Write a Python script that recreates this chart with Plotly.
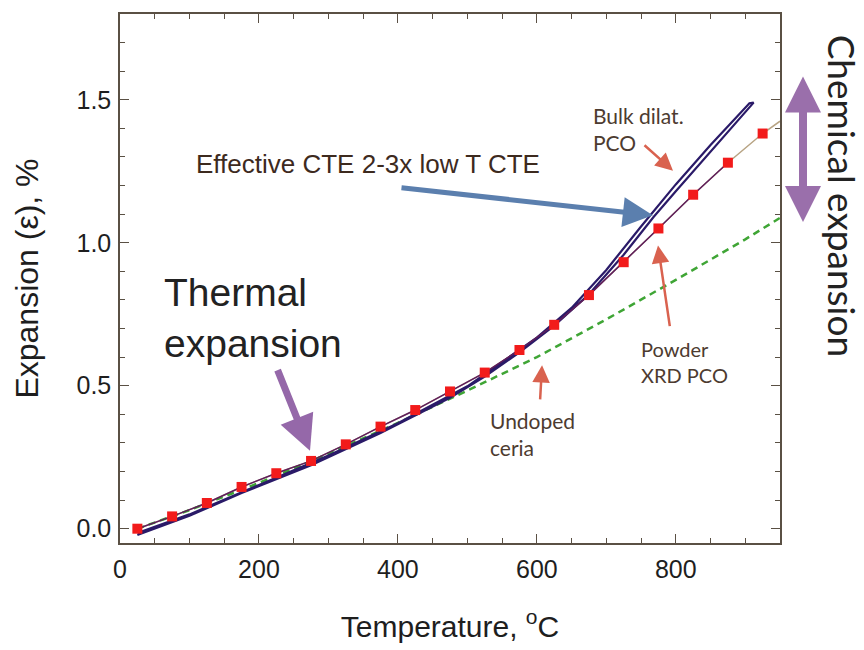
import plotly.graph_objects as go

# Powder XRD of PCO (red squares)
T_xrd = [25, 75, 125, 175, 225, 275, 325, 375, 425, 475, 525, 575, 625, 675,
         725, 775, 825, 875, 925]
eps_xrd = [0.0, 0.043, 0.09, 0.146, 0.194, 0.237, 0.295, 0.357, 0.415, 0.48,
           0.546, 0.625, 0.713, 0.817, 0.932, 1.05, 1.168, 1.28, 1.382]

# Smooth fit through the XRD data, extended to the axis end
T_fit_end = [950]
eps_fit_end = [1.425]

# Undoped ceria reference (dashed)
T_ceria = [25, 100, 200, 300, 400, 500, 600, 700, 800, 900, 950]
eps_ceria = [0.0, 0.065, 0.16, 0.262, 0.37, 0.483, 0.60, 0.732, 0.87, 1.012, 1.087]

# Bulk dilatometry of PCO: heating branch then cooling branch
T_heat = [25, 100, 175, 275, 375, 475, 525, 575, 625, 675, 725, 768, 800, 850, 912]
eps_heat = [-0.022, 0.045, 0.125, 0.222, 0.335, 0.458, 0.532, 0.617, 0.71, 0.82,
            0.958, 1.09, 1.18, 1.318, 1.49]
T_cool = [906, 850, 800, 750, 700, 650, 600, 500, 400, 300, 200, 100, 25]
eps_cool = [1.488, 1.342, 1.204, 1.057, 0.905, 0.772, 0.668, 0.498, 0.369, 0.256,
            0.153, 0.05, -0.015]

x_ticks = [0, 200, 400, 600, 800]
y_ticks = [0.0, 0.5, 1.0, 1.5]

AXIS_COLOR = "#5a5044"
TEXT_DARK = "#1e1e1e"
NOTE_COLOR = "#4d3b30"
RED_ARROW = "#d9624f"
ARIAL = "Liberation Sans, Arial"

fig = go.Figure()

fig.add_trace(go.Scatter(
    x=T_xrd + T_fit_end, y=eps_xrd + eps_fit_end, mode="lines",
    line=dict(color="#b8a484", width=1.5), hoverinfo="skip", showlegend=False))

fig.add_trace(go.Scatter(
    x=T_ceria, y=eps_ceria, mode="lines",
    line=dict(color="#3fa535", width=2.5, dash="7px,5px"),
    name="Undoped ceria", showlegend=False))

fig.add_trace(go.Scatter(
    x=T_heat + T_cool, y=eps_heat + eps_cool, mode="lines",
    line=dict(color="#2a1a68", width=2.2),
    name="Bulk dilat. PCO", showlegend=False))

fig.add_trace(go.Scatter(
    x=T_xrd[:18], y=eps_xrd[:18], mode="lines",
    line=dict(color="#5e1d5c", width=1.5), hoverinfo="skip", showlegend=False))

fig.add_trace(go.Scatter(
    x=T_xrd, y=eps_xrd, mode="markers",
    marker=dict(symbol="square", size=10, color="#f21b1b", line=dict(width=0)),
    name="Powder XRD PCO", showlegend=False))

axis_common = dict(
    showline=True, linecolor=AXIS_COLOR, linewidth=1.5, mirror="ticks",
    ticks="inside", ticklen=9, tickwidth=1.3, tickcolor=AXIS_COLOR,
    showgrid=False, zeroline=False,
    tickfont=dict(family=ARIAL, size=25, color=TEXT_DARK),
)

fig.update_xaxes(
    range=[0, 950], tickvals=x_ticks, ticktext=[str(v) for v in x_ticks],
    minor=dict(dtick=50, ticks="inside", ticklen=5, tickcolor=AXIS_COLOR, tickwidth=1.2),
    ticklabelstandoff=3,
    title=dict(text="Temperature, <sup>o</sup>C", standoff=34,
               font=dict(family=ARIAL, size=30, color=TEXT_DARK)),
    **axis_common)

fig.update_yaxes(
    range=[-0.05, 1.80], tickvals=y_ticks, ticktext=[f"{v:.1f}" for v in y_ticks],
    minor=dict(dtick=0.1, ticks="inside", ticklen=5, tickcolor=AXIS_COLOR, tickwidth=1.2),
    ticklabelstandoff=2,
    title=dict(text="Expansion (\u03b5), %", standoff=28,
               font=dict(family=ARIAL, size=32, color=TEXT_DARK)),
    **axis_common)

annotations = [
    # Texts
    dict(text="Effective CTE 2-3x low T CTE", xref="paper", yref="paper",
         x=(368 - 120) / 660, y=(545 - 163) / 533, showarrow=False,
         xanchor="center", yanchor="middle",
         font=dict(family=ARIAL, size=26, color="#3d2a1e")),
    dict(text="Thermal<br>expansion", xref="paper", yref="paper",
         x=(162 - 120) / 660, y=(545 - 318) / 533, showarrow=False,
         xanchor="left", yanchor="middle", align="left",
         font=dict(family=ARIAL, size=39, color="#222222")),
    dict(text="Bulk dilat.<br>PCO", xref="paper", yref="paper",
         x=(591 - 120) / 660, y=(545 - 128) / 533, showarrow=False,
         xanchor="left", yanchor="middle", align="left",
         font=dict(family="Lato", size=21, color=NOTE_COLOR)),
    dict(text="Powder<br>XRD PCO", xref="paper", yref="paper",
         x=(639 - 120) / 660, y=(545 - 363) / 533, showarrow=False,
         xanchor="left", yanchor="middle", align="left",
         font=dict(family="Lato", size=20, color=NOTE_COLOR)),
    dict(text="Undoped<br>ceria", xref="paper", yref="paper",
         x=(488 - 120) / 660, y=(545 - 435) / 533, showarrow=False,
         xanchor="left", yanchor="middle", align="left",
         font=dict(family="Lato", size=21, color=NOTE_COLOR)),
    dict(text="Chemical expansion", xref="paper", yref="paper",
         x=(842 - 120) / 660, y=(545 - 195) / 533, showarrow=False, textangle=90,
         xanchor="center", yanchor="middle",
         font=dict(family="Lato", size=37, color="#222222")),
    # Arrows
    dict(x=767, y=1.096, ax=403, ay=1.193, xref="x", yref="y", axref="x", ayref="y",
         text="", showarrow=True, arrowhead=2, arrowsize=1.2, arrowwidth=5,
         arrowcolor="#5b7fae"),
    dict(x=273.5, y=0.273, ax=226, ay=0.56, xref="x", yref="y", axref="x", ayref="y",
         text="", showarrow=True, arrowhead=2, arrowsize=1.0, arrowwidth=7,
         arrowcolor="rgba(138,88,160,0.9)"),
    dict(x=796, y=1.252, ax=752.8, ay=1.3455, xref="x", yref="y", axref="x", ayref="y",
         text="", showarrow=True, arrowhead=2, arrowsize=1.4, arrowwidth=2.5,
         arrowcolor=RED_ARROW),
    dict(x=774.4, y=0.99, ax=791.7, ay=0.703, xref="x", yref="y", axref="x", ayref="y",
         text="", showarrow=True, arrowhead=2, arrowsize=1.4, arrowwidth=2.5,
         arrowcolor=RED_ARROW),
    dict(x=607.5, y=0.572, ax=604.6, ay=0.447, xref="x", yref="y", axref="x", ayref="y",
         text="", showarrow=True, arrowhead=2, arrowsize=1.4, arrowwidth=2.5,
         arrowcolor=RED_ARROW),
    dict(x=(803 - 120) / 660, y=(545 - 75) / 533, ax=0, ay=147,
         xref="paper", yref="paper", axref="pixel", ayref="pixel",
         text="", showarrow=True, arrowhead=2, startarrowhead=2, arrowside="end+start",
         arrowsize=0.9, startarrowsize=0.9, arrowwidth=8,
         arrowcolor="rgba(144,96,162,0.9)"),
]

fig.update_layout(
    width=864, height=650,
    margin=dict(l=120, r=84, t=12, b=105),
    paper_bgcolor="white", plot_bgcolor="white",
    annotations=annotations,
    showlegend=False,
)

fig.write_html("out.html")
